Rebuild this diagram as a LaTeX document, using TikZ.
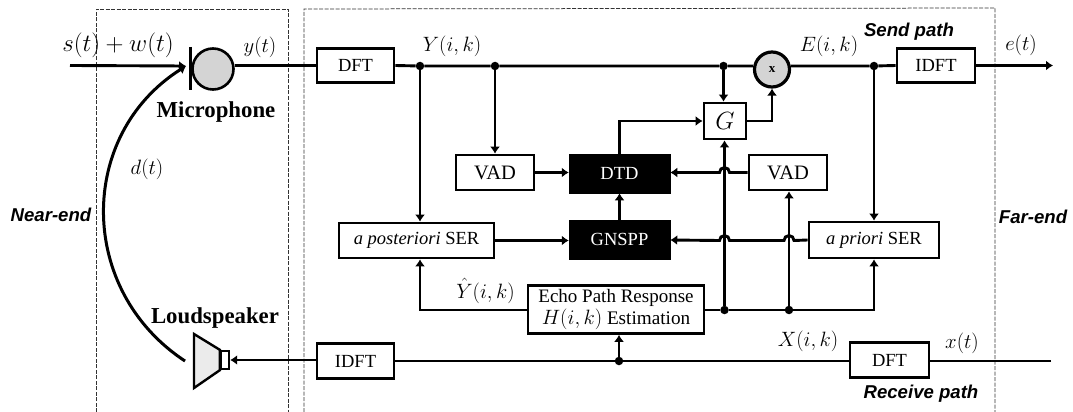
\documentclass[tikz,border=0pt]{standalone}
\usepackage{fontspec}
\setmainfont{Liberation Serif}
\newfontfamily\labelsans{Liberation Sans}
\usetikzlibrary{arrows.meta,calc}
\tikzset{
  every node/.style={font=\fontsize{18.5}{20}\selectfont},
  blk/.style={draw,line width=2.7pt,fill=white,inner sep=0pt,align=center},
  dark/.style={draw,fill=black,text=white,line width=0.5pt,inner sep=0pt,minimum width=101pt},
  sig/.style={line width=2.9pt},
  thinsig/.style={line width=2.2pt},
  arr/.style={-{Latex[length=7pt,width=10pt]}},
  junc/.style={circle,fill=black,inner sep=0pt,minimum size=8.5pt},
  region/.style={black!80,line width=0.75pt,dash pattern=on 4pt off 1.5pt},
  mathlab/.style={font=\fontsize{20.5}{25}\selectfont,inner sep=0pt},
  tag/.style={font=\fontsize{18.6}{20}\selectfont\labelsans\bfseries\itshape,inner sep=0pt},
  dev/.style={font=\fontsize{22.8}{25}\selectfont\bfseries,inner sep=0pt},
  dotfill/.style={fill=black!17},
  vadtext/.style={font=\fontsize{20.5}{22}\selectfont},
}
\begin{document}
\begin{tikzpicture}[x=1pt,y=-1pt]
\useasboundingbox (0,0) rectangle (1073,412);
% regions
\draw[region] (96,412) -- (96,9) -- (288,9) -- (288,412);
\draw[region] (304,412) -- (304,9) -- (995,8) -- (995,412);
% free ends
\coordinate (inS) at (70,65.5);
\coordinate (outE) at (1053,65.5);
\coordinate (inX) at (1051,361);
\coordinate (curveEnd) at (185,361);
\coordinate (curveTip) at (186,66);
% blocks
\node[blk,minimum width=77pt,minimum height=34pt] (dftY) at (355.5,65.5) {DFT};
\node[blk,minimum width=78pt,minimum height=34pt] (idftE) at (936,65.5) {IDFT};
\node[blk,vadtext,minimum width=78pt,minimum height=35pt] (vadL) at (495,172.5) {VAD};
\node[blk,vadtext,minimum width=78pt,minimum height=35pt] (vadR) at (788,172.5) {VAD};
\node[dark,minimum height=39pt] (dtd) at (619.5,173.5) {DTD};
\node[dark,minimum height=39pt] (gnspp) at (619.5,239.5) {GNSPP};
\node[blk,minimum width=42pt,minimum height=36pt,font=\fontsize{26}{27}\selectfont] (g) at (725,121) {$G$};
\node[blk,minimum width=155pt,minimum height=35pt] (post) at (416.5,240.5) {\textit{a posteriori} SER};
\node[blk,minimum width=130pt,minimum height=36pt] (prio) at (874,240) {\textit{a priori} SER};
\node[blk,minimum width=176pt,minimum height=48pt,font=\fontsize{19}{22}\selectfont] (epr) at (616,309.5) {Echo Path Response\\[0pt]\fontsize{19.2}{22}\selectfont$H(i,k)$ Estimation};
\node[blk,minimum width=77pt,minimum height=35pt] (idftS) at (355.5,361) {IDFT};
\node[blk,minimum width=79pt,minimum height=35pt] (dftX) at (889.5,360) {DFT};
\node[circle,draw,dotfill,line width=2.6pt,minimum size=41pt,inner sep=0pt] (mic) at (213,69) {};
\node[circle,draw,dotfill,line width=3.2pt,minimum size=35pt,inner sep=0pt,font=\fontsize{13}{13}\selectfont\bfseries] (mul) at (772,69.5) {x};
\node[draw,line width=2.4pt,fill=white,minimum width=8pt,minimum height=18pt,inner sep=0pt] (spk) at (225,360) {};
% junctions
\node[junc] (j1) at (420,66) {};
\node[junc] (j2) at (495,66) {};
\node[junc] (j3) at (723.5,66) {};
\node[junc] (j4) at (874,66) {};
\node[junc] (j5) at (724.5,310) {};
\node[junc] (j6) at (789,310) {};
\node[junc] (j7) at (619,361) {};
% microphone bar and speaker cone
\draw[line width=3pt] (190,47) -- (190,90);
\draw[line width=2.4pt,fill=black!8,line join=miter] (spk.north west) -- (194,334) -- (194,388) -- (spk.south west) -- cycle;
% send path
\draw[sig,arr] (inS) -- (curveTip);
\draw[sig] (mic.east |- dftY.west) -- (dftY.west);
\draw[sig] (dftY.east) -- (j1) -- (j2) -- (j3) -- (mul.west |- j3);
\draw[sig] (mul.east |- j4) -- (j4) -- (idftE.west);
\draw[sig,arr] (idftE.east) -- (outE);
% echo curve
\draw[line width=3pt,arr] (curveEnd) .. controls (77,290) and (77,135) .. (curveTip);
% vertical taps
\draw[sig,arr] (j1) -- (j1 |- post.north);
\draw[sig,arr] (j2) -- (vadL.north);
\draw[sig,arr] (j3) -- (j3 |- g.north);
\draw[sig,arr] (j4) -- (prio.north);
% VAD / DTD / G
\draw[sig,arr] (vadL.east) -- (dtd.west |- vadL.east);
\draw[sig,arr] (vadR.west) -- (729.5,172.5) arc[start angle=360,end angle=180,radius=5] -- (dtd.east |- vadR.west);
\draw[sig,arr] (gnspp.north) -- (dtd.south);
\draw[sig,arr] (dtd.north) |- (g.west);
\draw[sig,arr] (g.east) -| (mul.south);
% GNSPP
\draw[sig,arr] (post.east) -- (gnspp.west |- post.east);
\draw[sig,arr] (prio.west) -- (794,240.5) arc[start angle=360,end angle=180,radius=5] -- (729.5,240.5) arc[start angle=360,end angle=180,radius=5] -- (gnspp.east |- prio.west);
% far-end reference
\draw[sig,arr] (j5) -- (j5 |- g.south);
\draw[sig,arr] (j6) -- (j6 |- vadR.south);
\draw[thinsig] (epr.east |- j5) -- (j5);
\draw[thinsig] (j5) -- (j6);
\draw[thinsig,arr] (j6) -| (prio.south);
\draw[thinsig,arr] (epr.west |- j5) -| (j1 |- post.south);
% receive path
\draw[thinsig] (inX) -- (dftX.east |- inX);
\draw[thinsig] (dftX.west |- j7) -- (j7) -- (idftS.east |- j7);
\draw[sig,arr] (j7) -- (epr.south -| j7);
\draw[sig,arr] (idftS.west |- spk.east) -- (spk.east);
% signal labels
\node[mathlab,font=\fontsize{23}{25}\selectfont] (l1) at (118,45) {$s(t)+w(t)$};
\node[mathlab] (l2) at (260,47) {$y(t)$};
\node[mathlab,font=\fontsize{22}{25}\selectfont] (l3) at (147,169) {$d(t)$};
\node[mathlab] (l4) at (452,46) {$Y(i,k)$};
\node[mathlab,font=\fontsize{19.6}{25}\selectfont] (l5) at (829,46) {$E(i,k)$};
\node[mathlab] (l6) at (1021,45) {$e(t)$};
\node[mathlab,font=\fontsize{19.6}{25}\selectfont] (l7) at (485.5,291) {$\hat{Y}(i,k)$};
\node[mathlab] (l8) at (808,341) {$X(i,k)$};
\node[mathlab] (l9) at (962,343) {$x(t)$};
% device and path labels
\node[dev] (t1) at (216,112) {Microphone};
\node[dev] (t2) at (215,318) {Loudspeaker};
\node[tag] (t3) at (51,215) {Near-end};
\node[tag] (t4) at (1033,217) {Far-end};
\node[tag] (t5) at (909,32) {Send path};
\node[tag] (t6) at (921,394) {Receive path};
\end{tikzpicture}
\end{document}
